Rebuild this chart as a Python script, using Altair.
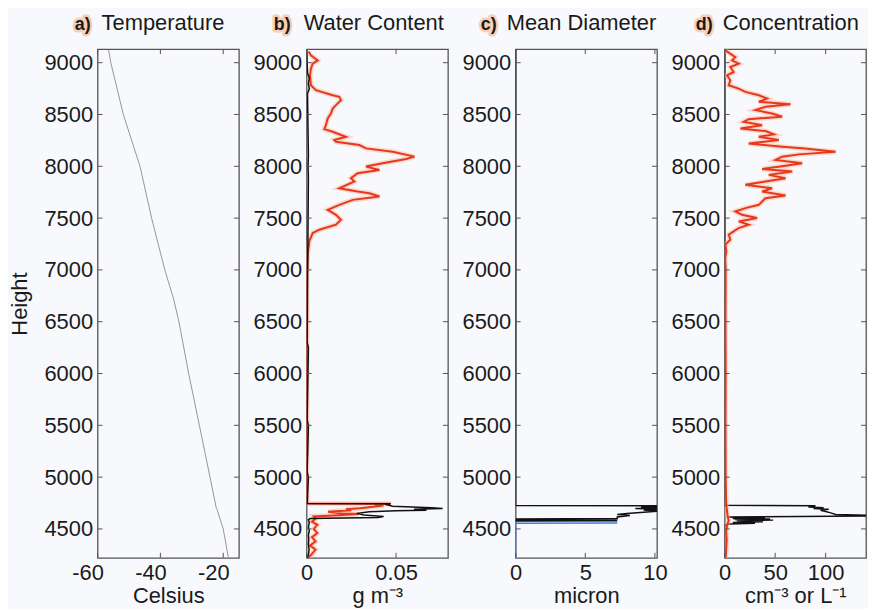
import altair as alt
import pandas as pd

FONT = "Liberation Sans"
TXT = "#1a1a1a"
W, H = 142, 511

height_ticks = [4500, 5000, 5500, 6000, 6500, 7000, 7500, 8000, 8500, 9000]
y_domain = [4221, 9130]

panel_letters = ["a)", "b)", "c)", "d)"]
panel_titles = ["Temperature", "Water Content", "Mean Diameter", "Concentration"]
x_titles = ["Celsius", "g m\u207b\u00b3", "micron", "cm\u207b\u00b3 or L\u207b\u00b9"]
x_ticks_list = [[-60, -40, -20], [0, 0.05], [0, 5, 10], [0, 50, 100]]
x_domains = [[-60, -15], [0, 0.079], [0, 10.15], [0, 140]]

# a) temperature
temp_h = [9125, 9000, 8500, 8000, 7500, 7000, 6720, 6500, 6000, 5500, 5000, 4700, 4690, 4500, 4230]
temp_c = [-56.5, -55.8, -51.8, -46.5, -42.8, -38.6, -35.8, -34.1, -31.0, -27.6, -24.2, -22.2, -22.0, -20.0, -18.4]

# b) water content, red
wc_red_h = [9109, 9070, 9022, 8990, 8942, 8878, 8782, 8734, 8686, 8670, 8638, 8590, 8558, 8510, 8462,
            8397, 8359, 8333, 8285, 8253, 8237, 8205, 8173, 8141, 8093, 8071, 8029, 7997, 7965, 7933,
            7885, 7853, 7788, 7756, 7740, 7708, 7676, 7628, 7580, 7532, 7484, 7436, 7388, 7356, 7276,
            7148, 6955, 6500, 6000, 5500, 5000, 4760, 4745, 4742, 4735, 4725, 4712, 4700, 4690, 4680,
            4665, 4650, 4643, 4632, 4620, 4600, 4570, 4540, 4500, 4460, 4420, 4380, 4340, 4300, 4260, 4221]
wc_red_v = [0.0011, 0.0024, 0.0062, 0.0034, 0.0024, 0.0019, 0.0024, 0.0052, 0.0146, 0.0183, 0.0192,
            0.0164, 0.0146, 0.0136, 0.0118, 0.0108, 0.0099, 0.0146, 0.0220, 0.0155, 0.0164, 0.0295,
            0.0332, 0.0481, 0.0603, 0.0556, 0.0425, 0.0332, 0.0407, 0.0285, 0.0248, 0.0267, 0.0183,
            0.0285, 0.0351, 0.0407, 0.0258, 0.0183, 0.0118, 0.0164, 0.0192, 0.0164, 0.0071, 0.0034,
            0.0015, 0.0006, 0.0002, 0.0003, 0.0002, 0.0003, 0.0002, 0.0004, 0.0004, 0.047, 0.038,
            0.043, 0.036, 0.030, 0.022, 0.025, 0.012, 0.020, 0.029, 0.018, 0.004, 0.005, 0.003, 0.006,
            0.004, 0.006, 0.003, 0.005, 0.002, 0.005, 0.003, 0.001]

# b) water content, black
wc_blk_h = [9130, 8900, 8850, 8800, 8750, 8700, 8100, 8000, 7900, 6300, 6250, 5550, 5500, 5050, 5000,
            4745, 4742, 4738, 4720, 4705, 4697, 4690, 4680, 4675, 4665, 4650, 4635, 4620, 4611, 4600,
            4590, 4560, 4520, 4480, 4440, 4400, 4350, 4300, 4250, 4221]
wc_blk_v = [0, 0.0005, 0.0015, 0.001, 0.0015, 0.0005, 0.001, 0.0008, 0.001, 0.0003, 0.001, 0.0003,
            0.001, 0.0003, 0.001, 0.0003, 0.047, 0.044, 0.048, 0.070, 0.076, 0.060, 0.067, 0.050,
            0.035, 0.028, 0.032, 0.043, 0.040, 0.002, 0.001, 0.0015, 0.001, 0.0015, 0.001, 0.0012,
            0.001, 0.0014, 0.001, 0.0005]

# c) mean diameter
md_blk_h = [9130, 4726, 4723, 4712, 4705, 4698, 4690, 4682, 4672, 4650, 4640, 4630, 4615, 4600,
            4596, 4590, 4586, 4580, 4576, 4572]
md_blk_v = [0, 0, 10.5, 9.0, 10.5, 8.6, 10.5, 9.2, 10.3, 8.0, 7.3, 8.2, 7.3, 7.3, 0, 7.3, 0, 7.3, 0, 0]
md_blu_h = [4558, 4556, 4221]
md_blu_v = [7.3, 0, 0]

# d) concentration, red
nc_red_h = [9119, 9054, 9022, 8990, 8958, 8910, 8878, 8830, 8782, 8750, 8718, 8686, 8654, 8622, 8599,
            8574, 8542, 8510, 8478, 8455, 8430, 8397, 8365, 8340, 8308, 8285, 8253, 8221, 8189, 8173,
            8141, 8115, 8093, 8061, 8029, 8006, 7974, 7949, 7917, 7885, 7853, 7821, 7788, 7756, 7718,
            7692, 7660, 7628, 7596, 7564, 7532, 7500, 7468, 7436, 7404, 7372, 7340, 7292, 7244, 7180,
            7116, 7000, 6500, 6000, 5500, 5000, 4750, 4700, 4620, 4580, 4540, 4480, 4400, 4300, 4221]
nc_red_v = [0.7, 10.6, 7.3, 13.9, 5.6, 8.9, 2.3, 5.6, 4.0, 13.9, 20.5, 33.8, 42.0, 33.8, 65.2, 40.4,
            30.5, 47.0, 56.9, 23.8, 18.9, 37.1, 15.6, 40.4, 48.7, 33.8, 53.6, 23.8, 56.9, 76.8, 109.9,
            73.5, 56.9, 50.3, 76.8, 60.3, 37.1, 66.9, 43.7, 60.3, 40.4, 20.5, 47.0, 37.1, 60.3, 40.4,
            37.1, 33.8, 20.5, 10.6, 17.2, 32.1, 13.9, 23.8, 13.9, 8.9, 4.0, 5.6, 0.7, 1.7, 0.5, 1.0,
            0.8, 1.0, 0.8, 1.0, 1.5, 2.0, 3.0, 4.0, 2.5, 1.5, 2.0, 1.5, 1.0]

# d) concentration, black
nc_blk_h = [9130, 4728, 4723, 4712, 4705, 4698, 4690, 4680, 4668, 4655, 4640, 4630, 4624, 4615,
            4605, 4600, 4595, 4590, 4585, 4578, 4570, 4562, 4555, 4548, 4540, 4221]
nc_blk_v = [0, 0, 90, 83, 98, 88, 103, 95, 100, 105, 110, 145, 145, 2, 40, 8, 45, 10, 48, 12, 38,
            8, 30, 5, 0, 0]


def frame(hs, vs):
    return pd.DataFrame({"h": hs, "v": vs, "i": list(range(len(hs)))})


def panel(k, series, first=False, label_offset=0):
    xd = x_domains[k]
    xt = x_ticks_list[k]
    xaxis = alt.Axis(values=xt, title=x_titles[k], labelFlush=False, ticks=False, domain=False,
                     grid=False, labelPadding=5, titlePadding=2, labelOffset=label_offset,
                     labelExpr="'' + datum.value")
    yargs = dict(values=height_ticks, ticks=False, domain=False, grid=False, labelPadding=5,
                 format="d")
    if first:
        yargs["title"] = "Height"
        yargs["titlePadding"] = 12
    else:
        yargs["title"] = ""
    yaxis = alt.Axis(**yargs)
    xenc = alt.X("v:Q", scale=alt.Scale(domain=xd, nice=False, zero=False), axis=xaxis)
    yenc = alt.Y("h:Q", scale=alt.Scale(domain=y_domain, nice=False, zero=False), axis=yaxis)

    layers = []
    for df, color, width, glow in series:
        if glow:
            layers.append(alt.Chart(df).mark_line(color="#f7b8a2", strokeWidth=5, opacity=0.5,
                                                  clip=True).encode(
                x=xenc, y=yenc, order=alt.Order("i:Q")))
        layers.append(alt.Chart(df).mark_line(color=color, strokeWidth=width, clip=True).encode(
            x=xenc, y=yenc, order=alt.Order("i:Q")))

    ytk = pd.DataFrame({"h": height_ticks})
    xtk = pd.DataFrame({"v": xt})
    tick_color = "#555"
    layers.append(alt.Chart(ytk).mark_rule(color=tick_color, strokeWidth=1).encode(
        y=yenc, x=alt.value(0), x2=alt.value(5)))
    layers.append(alt.Chart(ytk).mark_rule(color=tick_color, strokeWidth=1).encode(
        y=yenc, x=alt.value(W - 5), x2=alt.value(W)))
    layers.append(alt.Chart(xtk).mark_rule(color=tick_color, strokeWidth=1).encode(
        x=xenc, y=alt.value(H - 5), y2=alt.value(H)))
    layers.append(alt.Chart(xtk).mark_rule(color=tick_color, strokeWidth=1).encode(
        x=xenc, y=alt.value(0), y2=alt.value(5)))

    letter_dx = [-23, -33, -35, -29][k]
    word_dx = [4, -3, -9, -2][k]
    one = pd.DataFrame({"t": [panel_letters[k]]})
    layers.append(alt.Chart(one).mark_text(font=FONT, fontSize=18, fontWeight="bold", align="left",
                                           baseline="alphabetic", stroke="#f8cfb6", strokeWidth=5,
                                           strokeJoin="round", color="#f8cfb6").encode(
        text="t:N", x=alt.value(letter_dx), y=alt.value(-19)))
    layers.append(alt.Chart(one).mark_text(font=FONT, fontSize=18, fontWeight="bold", align="left",
                                           baseline="alphabetic", color=TXT).encode(
        text="t:N", x=alt.value(letter_dx), y=alt.value(-19)))
    two = pd.DataFrame({"t": [panel_titles[k]]})
    layers.append(alt.Chart(two).mark_text(font=FONT, fontSize=22, align="left",
                                           baseline="alphabetic", color=TXT).encode(
        text="t:N", x=alt.value(word_dx), y=alt.value(-19)))
    return alt.layer(*layers).properties(width=W, height=H)


pa = panel(0, [(frame(temp_h, temp_c), "#959595", 1.0, False)], first=True, label_offset=-10)
pb = panel(1, [(frame(wc_red_h, wc_red_v), "#e8381c", 2.0, True),
               (frame(wc_blk_h, wc_blk_v), "#111111", 1.5, False)])
pc = panel(2, [(frame(md_blk_h, md_blk_v), "#111111", 1.5, False),
               (frame(md_blu_h, md_blu_v), "#3f7fe0", 1.5, False)])
pd_ = panel(3, [(frame(nc_blk_h, nc_blk_v), "#111111", 1.5, False),
                (frame(nc_red_h, nc_red_v), "#e8381c", 2.0, True)])

chart = alt.hconcat(pa, pb, pc, pd_, spacing=68, bounds="flush").properties(
    background="#f8f9fc", padding={"left": 0, "top": 2, "right": 0, "bottom": 0}
).configure_view(stroke="#555555", strokeWidth=1.3).configure_axis(
    labelFont=FONT, labelFontSize=22, labelColor=TXT, titleFont=FONT, titleFontSize=22,
    titleColor=TXT, titleFontWeight="normal"
)

chart.save("out.html", embed_options={"renderer": "svg", "actions": False})
